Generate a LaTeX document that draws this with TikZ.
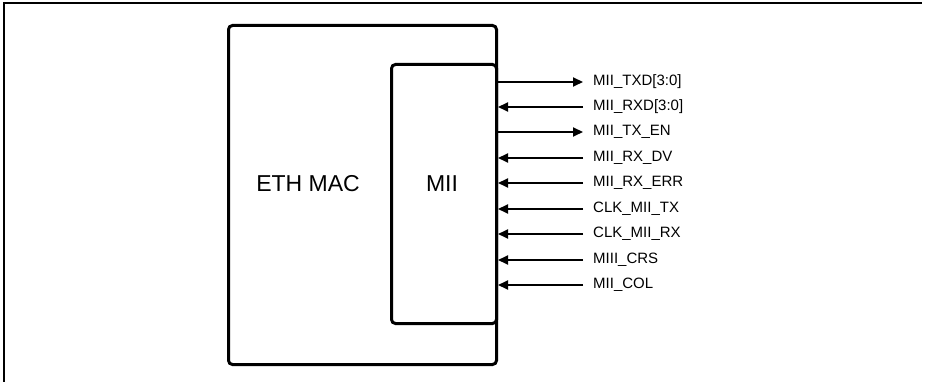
\documentclass[tikz,border=0pt]{standalone}
\usepackage{fontspec}
\setmainfont{Liberation Sans}
\usetikzlibrary{arrows.meta}
\begin{document}
\begin{tikzpicture}[x=1pt,y=-1pt,
  blk/.style={draw,line width=3pt,rounded corners=4pt,inner sep=0pt,anchor=north west},
  sig/.style={anchor=west,inner xsep=10pt,inner ysep=0pt,font=\fontsize{15}{17}\selectfont},
  conn/.style={line width=2pt,-{Triangle[length=10pt,width=9pt]}}]
\useasboundingbox (0,0) rectangle (926,382);
\draw[line width=1.5pt] (4,382) -- (4,3) -- (922,3);
\node[blk,minimum width=268pt,minimum height=339pt] (mac) at (227,24) {};
\node[blk,minimum width=105pt,minimum height=259pt] (mii) at (390,63) {};
\node[font=\fontsize{23}{26}\selectfont] (mactxt) at (308,184) {ETH MAC};
\node[font=\fontsize{23}{26}\selectfont] (miitxt) at (442,184) {MII};
\foreach \n/\y/\t/\d in {a/82/MII\_TXD[3:0]/o, b/107/MII\_RXD[3:0]/i, c/132/MII\_TX\_EN/o, d/158/MII\_RX\_DV/i, e/183/MII\_RX\_ERR/i, f/209/CLK\_MII\_TX/i, g/234/CLK\_MII\_RX/i, h/260/MIII\_CRS/i, k/285/MII\_COL/i}{
  \node[sig] (\n) at (583,\y) {\t};
  \coordinate (\n s) at (mii.east |- \n.west);
  \if\d o
    \draw[conn] (\n s) -- (\n.west);
  \else
    \draw[conn] (\n.west) -- (\n s);
  \fi
}
\end{tikzpicture}
\end{document}
